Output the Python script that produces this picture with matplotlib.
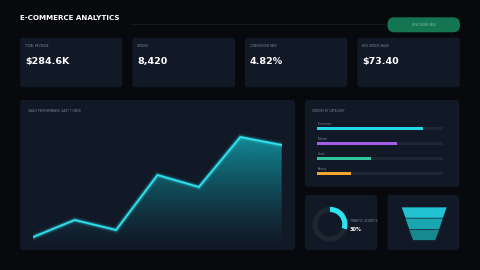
#!/usr/bin/env python3

import numpy as np
import matplotlib
matplotlib.use('Agg')
import matplotlib.pyplot as plt
import matplotlib.patches as mpatches
from matplotlib.colors import to_rgb


# ---------- #
# -- DATA -- #
# ---------- #

kpi_labels = ['TOTAL REVENUE', 'ORDERS', 'CONVERSION RATE', 'AVG ORDER VALUE']
kpi_values = ['$284.6K', '8,420', '4.82%', '$73.40']

days  = ['Mon', 'Tue', 'Wed', 'Thu', 'Fri', 'Sat', 'Sun']
sales = [13, 30, 20, 75, 63, 113, 105]

categories     = ['Electronics', 'Fashion', 'Home', 'Beauty']
category_share = [84, 63, 43, 27]

traffic_share = 30

funnel_stages = ['Visits', 'Cart', 'Checkout']
funnel_edges  = [100, 83, 67, 49]


# ------------ #
# -- STYLE -- #
# ------------ #

BG       = '#07090d'
PANEL    = '#111826'
TRACK    = '#1e2633'
MUTED    = '#7d8797'
CYAN     = '#2ee3ef'
CAT_COLS = ['#22d8ea', '#a45ee8', '#2fc79a', '#f2a62a']
FUNNEL_C = ['#21c3d2', '#1aa6b1', '#158890']

W, H = 480, 270

fig = plt.figure(figsize=(4.8, 2.7), dpi=100, facecolor=BG)

bg = fig.add_axes([0, 0, 1, 1])
bg.set_xlim(0, W)
bg.set_ylim(H, 0)
bg.axis('off')


def px_axes(x0, y0, x1, y1):
    ax = fig.add_axes([x0 / W, 1 - y1 / H, (x1 - x0) / W, (y1 - y0) / H])
    ax.axis('off')
    ax.patch.set_alpha(0)
    return ax


def panel(x0, y0, x1, y1, color=PANEL, r=3):
    bg.add_patch(mpatches.FancyBboxPatch(
        (x0, y0), x1 - x0, y1 - y0,
        boxstyle  = f'round,pad=0,rounding_size={r}',
        facecolor = color,
        edgecolor = 'none',
    ))


# -- header -- #
bg.text(20, 17.5, 'E-COMMERCE ANALYTICS', color='white', fontsize=5.1,
        fontweight='bold', va='center', ha='left')
bg.plot([130, 387], [24.3, 24.3], color='#151c27', lw=0.6)
panel(387.5, 17.3, 460, 32.3, color='#137552', r=7)
bg.text(423.7, 25, 'NEW ORDER PAGE', color='#8fb8a6', fontsize=1.9,
        ha='center', va='center')

# -- KPI cards -- #
card_x = [(20, 122.3), (132.3, 235), (245, 347.3), (357.3, 460)]
for (x0, x1), label, value in zip(card_x, kpi_labels, kpi_values):
    panel(x0, 37.7, x1, 87.3)
    bg.text(x0 + 5, 46, label, color=MUTED, fontsize=2.1, va='center')
    bg.text(x0 + 5, 61.3, value, color='white', fontsize=6.8,
            fontweight='bold', va='center')

# -- panels -- #
panel(20, 100, 295, 250)
panel(305, 100, 459.3, 186.7)
panel(305, 195, 377.3, 250)
panel(387.7, 195, 459.3, 250)

bg.text(27.7, 111, 'SALES PERFORMANCE (LAST 7 DAYS)', color=MUTED,
        fontsize=2.1, va='center')
bg.text(312.3, 111, 'ORDERS BY CATEGORY', color=MUTED,
        fontsize=2.1, va='center')

# -- sales line -- #
ax = px_axes(33.3, 125, 281.7, 250)
x = np.arange(len(sales))
ax.set_xlim(0, len(sales) - 1)
ax.set_ylim(0, 125)

grad_rgb = np.array(to_rgb('#12aeba'))
yy = np.linspace(0, 1, 256)[:, None]
alpha = 0.75 * (yy * 125 / max(sales)).clip(0, 1) ** 1.3
img = np.zeros((256, 1, 4))
img[..., :3] = grad_rgb
img[..., 3] = alpha
im = ax.imshow(img, extent=[0, len(sales) - 1, 0, 125], origin='lower',
               aspect='auto', zorder=1)
fill = ax.fill_between(x, sales, 0, color='none')
clip = mpatches.PathPatch(fill.get_paths()[0], transform=ax.transData,
                          facecolor='none', edgecolor='none')
ax.add_patch(clip)
im.set_clip_path(clip)

for lw, a in [(5.0, 0.08), (3.2, 0.16), (2.0, 0.35)]:
    ax.plot(x, sales, color=CYAN, lw=lw, alpha=a, solid_joinstyle='miter',
            zorder=2)
ax.plot(x, sales, color=CYAN, lw=1.2, solid_joinstyle='miter', zorder=3)

# -- category bars -- #
ax = px_axes(317.3, 121, 443.3, 181)
ax.set_xlim(0, 100)
ax.set_ylim(len(categories), 0)
rows = np.arange(len(categories))
ax.barh(rows + 0.51, [100] * len(categories), height=0.2, color=TRACK)
ax.barh(rows + 0.51, category_share, height=0.2, color=CAT_COLS)
for i, name in enumerate(categories):
    ax.text(0, i + 0.18, name, color=MUTED, fontsize=1.9, va='center')

# -- donut -- #
ax = px_axes(312.5, 206.8, 347.5, 241.8)
ax.pie([traffic_share, 100 - traffic_share],
       colors        = [CYAN, '#1e2632'],
       startangle    = 90,
       counterclock  = False,
       radius        = 1,
       wedgeprops    = dict(width=0.3, edgecolor='none'))
ax.set_xlim(-1, 1)
ax.set_ylim(-1, 1)
bg.text(350, 221, 'TRAFFIC SOURCE', color=MUTED, fontsize=2.3, va='center')
bg.text(350, 229.3, f'{traffic_share}%', color='white', fontsize=3.6,
        fontweight='bold', va='center')

# -- funnel -- #
ax = px_axes(401.7, 207, 446.7, 240.5)
ax.set_xlim(-50, 50)
ax.set_ylim(len(funnel_stages), 0)
for i, stage in enumerate(funnel_stages):
    top, bot = funnel_edges[i] / 2, funnel_edges[i + 1] / 2
    t, b = i + 0.03, i + 0.97
    ax.add_patch(mpatches.Polygon(
        [(-top, t), (top, t), (bot, b), (-bot, b)],
        closed=True, facecolor=FUNNEL_C[i], edgecolor='none'
    ))

plt.savefig('out.png', dpi=100, facecolor=BG)
plt.close()
